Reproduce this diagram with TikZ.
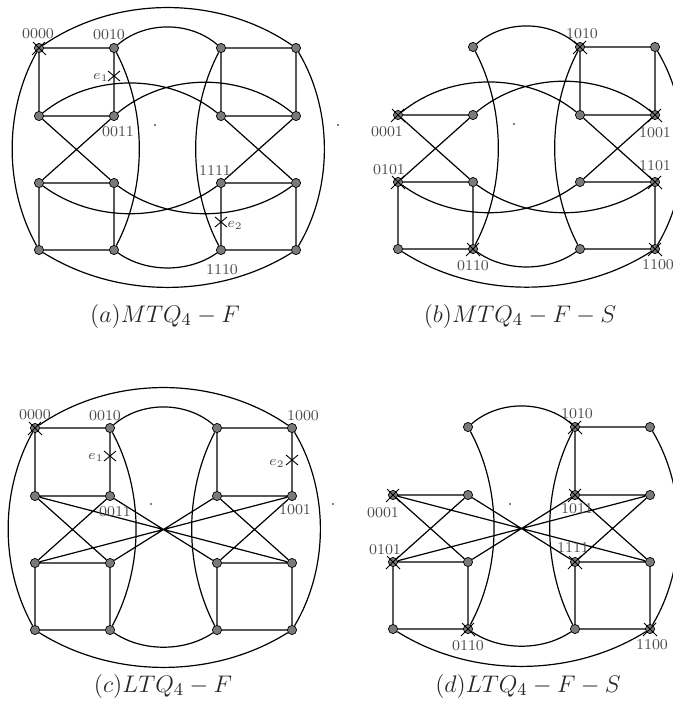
\documentclass[tikz,border=0pt]{standalone}
\usetikzlibrary{calc}
\begin{document}
\begin{tikzpicture}[x=0.5pt,y=-0.5pt,
  vtx/.style={circle,draw=black,fill=black!52,line width=0.35pt,inner sep=0pt,minimum size=4.6pt},
  ed/.style={line width=0.6pt},
  xm/.style={line width=0.45pt},
  lbl/.style={text=black!70,font=\fontsize{7.5}{9}\selectfont,inner sep=0pt},
  captxt/.style={font=\fontsize{12.3}{14}\selectfont,inner sep=0pt,text=black!85},
  dotm/.style={fill=black}]
\useasboundingbox (0,0) rectangle (673,706);
\clip (0,0) rectangle (673,706);

% ---------------- panel (a) ----------------
\begin{scope}[shift={(39,48)}]
\foreach \r/\yy in {1/0,2/68,3/135,4/202}
  \foreach \c/\xx in {1/0,2/75,3/182,4/257}
    {\node[vtx] (a\r\c) at (\xx,\yy) {};}
\draw[ed] (a11)--(a12) (a11)--(a21) (a12)--(a22) (a21)--(a22)
  (a13)--(a14) (a13)--(a23) (a14)--(a24) (a23)--(a24)
  (a31)--(a32) (a31)--(a41) (a32)--(a42) (a41)--(a42)
  (a33)--(a34) (a33)--(a43) (a34)--(a44) (a43)--(a44)
  (a21)--(a32) (a22)--(a31) (a23)--(a34) (a24)--(a33);
\draw[ed]
  (a11) .. controls +(77,-53) and +(-77,-53) .. (a14)
  (a41) .. controls +(78,49) and +(-78,49) .. (a44)
  (a11) .. controls +(-35,63) and +(-35,-63) .. (a41)
  (a14) .. controls +(37,62) and +(37,-62) .. (a44)
  (a12) .. controls +(31,-27) and +(-31,-27) .. (a13)
  (a42) .. controls +(32,23) and +(-32,23) .. (a43)
  (a12) .. controls +(33,63) and +(33,-63) .. (a42)
  (a13) .. controls +(-33,63) and +(-33,-63) .. (a43)
  (a21) .. controls +(53,-43) and +(-53,-43) .. (a23)
  (a22) .. controls +(53,-44) and +(-53,-44) .. (a24)
  (a31) .. controls +(54,40) and +(-54,40) .. (a33)
  (a32) .. controls +(54,40) and +(-54,40) .. (a34);
\fill[dotm] (116,77) circle (0.9);
\fill[dotm] (299,77) circle (0.9);
\end{scope}
\draw[xm] ($(a11)+(-6,-6)$)--($(a11)+(7,7)$) ($(a11)+(-7,7)$)--($(a11)+(6,-6)$);
\coordinate (e1a) at (114,76);
\coordinate (e2a) at (221,222);
\draw[xm] ($(e1a)+(-6,-5)$)--($(e1a)+(6,5)$) ($(e1a)+(-6,5)$)--($(e1a)+(6,-5)$);
\draw[xm] ($(e2a)+(-6,-5)$)--($(e2a)+(6,5)$) ($(e2a)+(-6,5)$)--($(e2a)+(6,-5)$);
\node[lbl] (la1) at (38,34) {0000};
\node[lbl] (la2) at (109,35) {0010};
\node[lbl] (la3) at (118,132) {0011};
\node[lbl] (la4) at (215,171) {1111};
\node[lbl] (la5) at (222,270) {1110};
\node[lbl,anchor=east] (le1a) at (109,77) {$e_1$};
\node[lbl,anchor=west] (le2a) at (227,225) {$e_2$};
\node[captxt] (capa) at (165,316) {$(a)MTQ_4-F$};

% ---------------- panel (b) ----------------
\begin{scope}[shift={(398,47)}]
\foreach \r/\yy in {1/0,2/68,3/135,4/202}
  \foreach \c/\xx in {1/0,2/75,3/182,4/257}
    {\ifnum\r\c=11\relax\else\node[vtx] (b\r\c) at (\xx,\yy) {};\fi}
\draw[ed] (b13)--(b14) (b13)--(b23) (b14)--(b24) (b23)--(b24)
  (b21)--(b22)
  (b31)--(b32) (b31)--(b41) (b32)--(b42) (b41)--(b42)
  (b33)--(b34) (b34)--(b44) (b43)--(b44)
  (b21)--(b32) (b22)--(b31) (b23)--(b34) (b24)--(b33);
\draw[ed]
  (b41) .. controls +(78,50) and +(-78,50) .. (b44)
  (b14) .. controls +(37,62) and +(37,-62) .. (b44)
  (b12) .. controls +(31,-27) and +(-31,-27) .. (b13)
  (b42) .. controls +(32,23) and +(-32,23) .. (b43)
  (b12) .. controls +(33,63) and +(33,-63) .. (b42)
  (b13) .. controls +(-33,63) and +(-33,-63) .. (b43)
  (b21) .. controls +(53,-43) and +(-53,-43) .. (b23)
  (b22) .. controls +(53,-44) and +(-53,-44) .. (b24)
  (b31) .. controls +(54,40) and +(-54,40) .. (b33)
  (b32) .. controls +(54,40) and +(-54,40) .. (b34);
\fill[dotm] (116,77) circle (0.9);
\end{scope}
\foreach \n in {b21,b31,b42,b13,b24,b34,b44}
  \draw[xm] ($(\n)+(-6,-6)$)--($(\n)+(7,7)$) ($(\n)+(-7,7)$)--($(\n)+(6,-6)$);
\node[lbl] (lb1) at (387,132) {0001};
\node[lbl] (lb2) at (389,170) {0101};
\node[lbl] (lb3) at (473,266) {0110};
\node[lbl] (lb4) at (582,34) {1010};
\node[lbl] (lb5) at (655,133) {1001};
\node[lbl] (lb6) at (655,166) {1101};
\node[lbl] (lb7) at (658,265) {1100};
\node[captxt] (capb) at (520,316) {$(b)MTQ_4-F-S$};

% ---------------- panel (c) ----------------
\begin{scope}[shift={(35,428)}]
\foreach \r/\yy in {1/0,2/68,3/135,4/202}
  \foreach \c/\xx in {1/0,2/75,3/182,4/257}
    {\node[vtx] (c\r\c) at (\xx,\yy) {};}
\draw[ed] (c11)--(c12) (c11)--(c21) (c12)--(c22) (c21)--(c22)
  (c13)--(c14) (c13)--(c23) (c14)--(c24) (c23)--(c24)
  (c31)--(c32) (c31)--(c41) (c32)--(c42) (c41)--(c42)
  (c33)--(c34) (c33)--(c43) (c34)--(c44) (c43)--(c44)
  (c21)--(c32) (c22)--(c31) (c23)--(c34) (c24)--(c33)
  (c21)--(c34) (c22)--(c33) (c31)--(c24) (c32)--(c23);
\draw[ed]
  (c11) .. controls +(77,-53) and +(-77,-53) .. (c14)
  (c41) .. controls +(78,49) and +(-78,49) .. (c44)
  (c11) .. controls +(-35,63) and +(-35,-63) .. (c41)
  (c14) .. controls +(37,62) and +(37,-62) .. (c44)
  (c12) .. controls +(31,-27) and +(-31,-27) .. (c13)
  (c42) .. controls +(32,22) and +(-32,22) .. (c43)
  (c12) .. controls +(34,63) and +(34,-63) .. (c42)
  (c13) .. controls +(-33,63) and +(-33,-63) .. (c43);
\fill[dotm] (116,76) circle (0.9);
\fill[dotm] (298,76) circle (0.9);
\end{scope}
\draw[xm] ($(c11)+(-6,-6)$)--($(c11)+(7,7)$) ($(c11)+(-7,7)$)--($(c11)+(6,-6)$);
\coordinate (e1c) at (110,456);
\coordinate (e2c) at (292,460);
\draw[xm] ($(e1c)+(-6,-5)$)--($(e1c)+(6,5)$) ($(e1c)+(-6,5)$)--($(e1c)+(6,-5)$);
\draw[xm] ($(e2c)+(-6,-5)$)--($(e2c)+(6,5)$) ($(e2c)+(-6,5)$)--($(e2c)+(6,-5)$);
\node[lbl] (lc1) at (35,415) {0000};
\node[lbl] (lc2) at (105,416) {0010};
\node[lbl] (lc3) at (303,416) {1000};
\node[lbl] (lc4) at (115,512) {0011};
\node[lbl] (lc5) at (295,510) {1001};
\node[lbl,anchor=east] (le1c) at (104,457) {$e_1$};
\node[lbl,anchor=east] (le2c) at (285,463) {$e_2$};
\node[captxt] (capc) at (163,686) {$(c)LTQ_4-F$};

% ---------------- panel (d) ----------------
\begin{scope}[shift={(393,427)}]
\foreach \r/\yy in {1/0,2/68,3/135,4/202}
  \foreach \c/\xx in {1/0,2/75,3/182,4/257}
    {\ifnum\r\c=11\relax\else\node[vtx] (d\r\c) at (\xx,\yy) {};\fi}
\draw[ed] (d13)--(d14) (d13)--(d23) (d23)--(d24)
  (d21)--(d22)
  (d31)--(d32) (d31)--(d41) (d32)--(d42) (d41)--(d42)
  (d33)--(d34) (d33)--(d43) (d34)--(d44) (d43)--(d44)
  (d21)--(d32) (d22)--(d31) (d23)--(d34) (d24)--(d33)
  (d21)--(d34) (d22)--(d33) (d31)--(d24) (d32)--(d23);
\draw[ed]
  (d41) .. controls +(78,49) and +(-78,49) .. (d44)
  (d14) .. controls +(37,62) and +(37,-62) .. (d44)
  (d12) .. controls +(31,-27) and +(-31,-27) .. (d13)
  (d42) .. controls +(32,22) and +(-32,22) .. (d43)
  (d12) .. controls +(34,63) and +(34,-63) .. (d42)
  (d13) .. controls +(-33,63) and +(-33,-63) .. (d43);
\fill[dotm] (117,77) circle (0.9);
\end{scope}
\foreach \n in {d21,d31,d42,d13,d23,d33,d44}
  \draw[xm] ($(\n)+(-6,-6)$)--($(\n)+(7,7)$) ($(\n)+(-7,7)$)--($(\n)+(6,-6)$);
\node[lbl] (ld1) at (383,513) {0001};
\node[lbl] (ld2) at (385,550) {0101};
\node[lbl] (ld3) at (468,646) {0110};
\node[lbl] (ld4) at (577,414) {1010};
\node[lbl] (ld5) at (577,509) {1011};
\node[lbl] (ld6) at (573,548) {1111};
\node[lbl] (ld7) at (652,645) {1100};
\node[captxt] (capd) at (528,686) {$(d)LTQ_4-F-S$};
\end{tikzpicture}
\end{document}
